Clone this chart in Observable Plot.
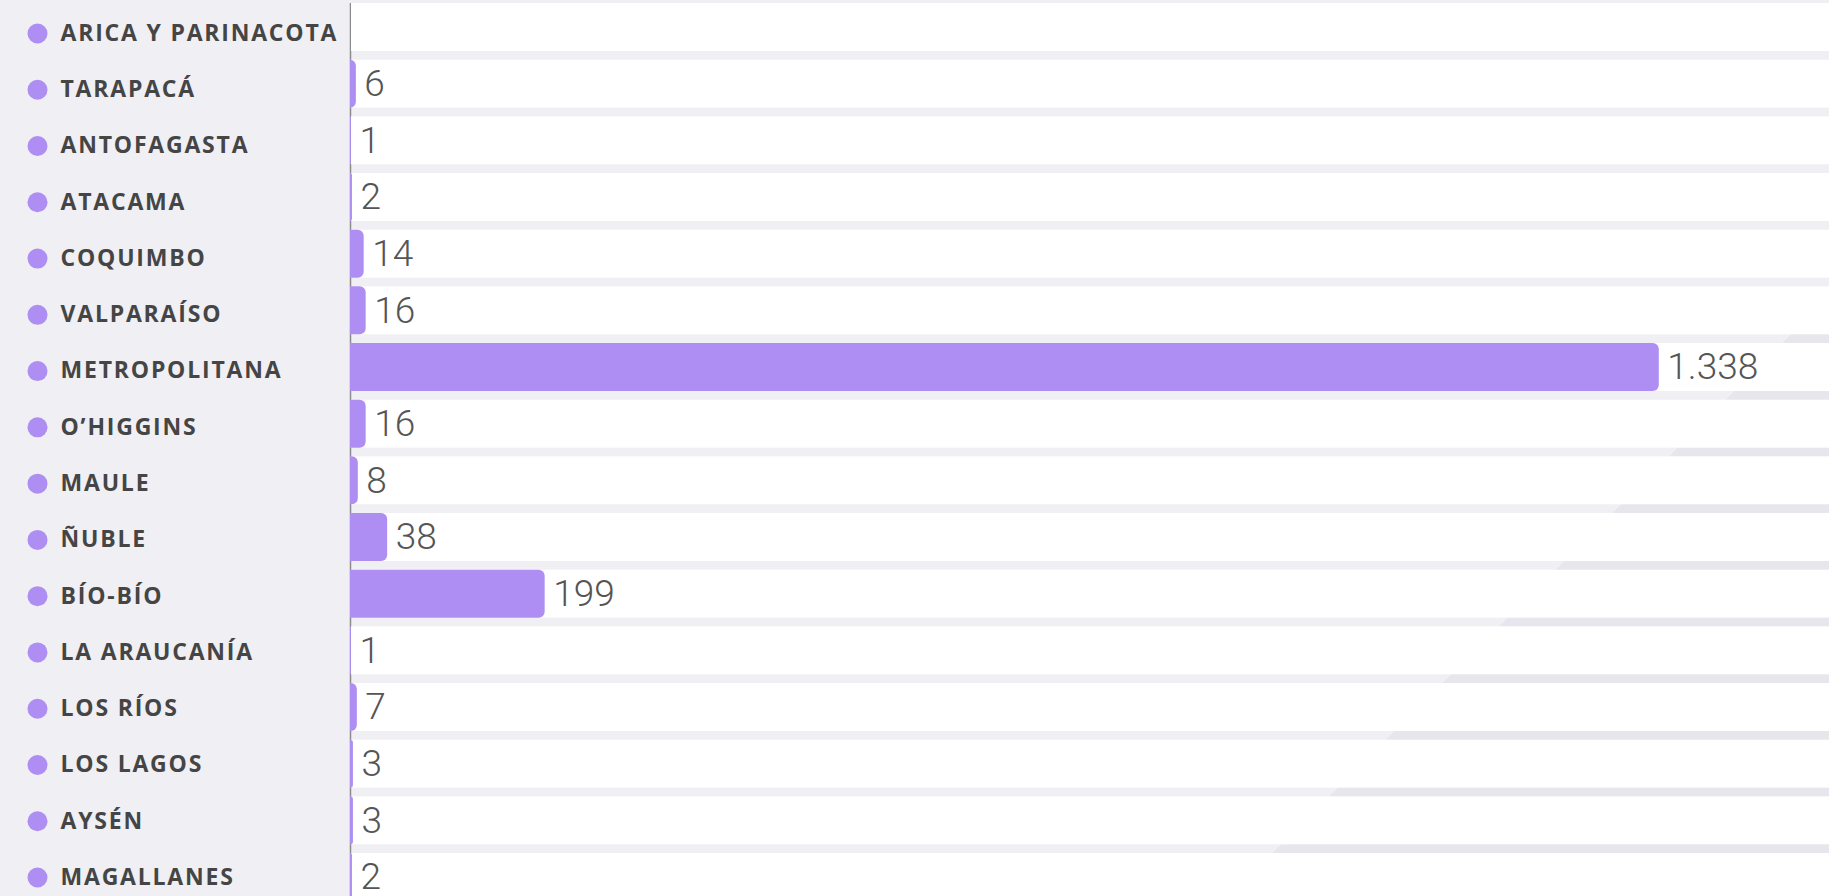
<!DOCTYPE html>
<html>
<head>
<meta charset="utf-8">
<script src="https://cdn.jsdelivr.net/npm/d3@7"></script>
<script src="https://cdn.jsdelivr.net/npm/@observablehq/plot@0.6"></script>
<style>
  html, body { margin: 0; padding: 0; overflow: hidden; }
  body {
    width: 1829px; height: 896px;
    background: linear-gradient(135deg, #efeff4 1503px, #e6e6ec 1503px);
  }
  #wrap { position: relative; width: 1829px; height: 896px; }
  #left { position: absolute; left: 0; top: 0; }
  #right { position: absolute; left: 349px; top: 0; }
</style>
</head>
<body>
<div id="wrap"><div id="left"></div><div id="right"></div></div>
<script>
const regions = ["ARICA Y PARINACOTA", "TARAPACÁ", "ANTOFAGASTA", "ATACAMA", "COQUIMBO", "VALPARAÍSO", "METROPOLITANA", "O’HIGGINS", "MAULE", "ÑUBLE", "BÍO-BÍO", "LA ARAUCANÍA", "LOS RÍOS", "LOS LAGOS", "AYSÉN", "MAGALLANES"];
const counts = [null, 6, 1, 2, 14, 16, 1338, 16, 8, 38, 199, 1, 7, 3, 3, 2];
const xMax = 1512;

const purple = "#ae8ef3";
const rows = regions.map((r, i) => ({region: r, value: counts[i]}));
const fmt = d3.formatLocale({thousands: ".", grouping: [3], decimal: ","}).format(",d");

const left = Plot.plot({
  width: 350, height: 896,
  margin: 0,
  style: {background: "none", letterSpacing: "1.8px"},
  x: {axis: null},
  y: {type: "point", domain: regions, range: [33, 877], padding: 0, round: false, axis: null},
  marks: [
    Plot.dot(regions, {y: d => d, frameAnchor: "left", dx: 37, r: 10, fill: purple, stroke: null}),
    Plot.text(regions, {y: d => d, text: d => d, frameAnchor: "left", dx: 60, textAnchor: "start",
      fontSize: 23, fontWeight: 700, fill: "#454545", fontFamily: "Open Sans"})
  ]
});
document.getElementById("left").appendChild(left);

const right = Plot.plot({
  width: 1480, height: 896,
  marginLeft: 1, marginRight: 0, marginTop: 3, marginBottom: 0,
  style: {background: "none", overflow: "hidden"},
  x: {domain: [0, xMax], axis: null},
  y: {type: "band", domain: regions, range: [3, 901], paddingInner: 0.153, paddingOuter: 0, round: false, axis: null},
  marks: [
    Plot.ruleX([0], {stroke: "#8c8c8c", strokeWidth: 1.5}),
    Plot.barX(rows, {y: "region", x1: 0, x2: xMax, fill: "white", insetLeft: 1}),
    Plot.barX(rows.filter(d => d.value != null), {y: "region", x: "value", fill: purple, rx2: 6}),
    Plot.text(rows.filter(d => d.value != null), {y: "region", x: "value", text: d => fmt(d.value),
      textAnchor: "start", dx: 8, fontSize: 37, fontWeight: 300, fill: "#555", fontFamily: "Roboto"})
  ]
});
document.getElementById("right").appendChild(right);
</script>
</body>
</html>
